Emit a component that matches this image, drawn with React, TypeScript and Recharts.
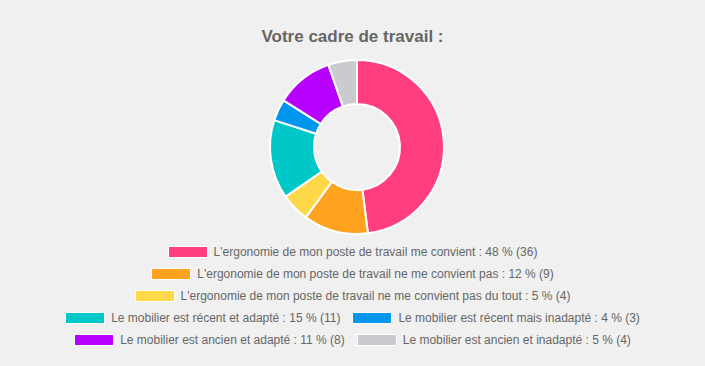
import React from "react";
import { PieChart, Pie, Cell, Legend } from "recharts";

const labels = [
  "L'ergonomie de mon poste de travail me convient",
  "L'ergonomie de mon poste de travail ne me convient pas",
  "L'ergonomie de mon poste de travail ne me convient pas du tout",
  "Le mobilier est récent et adapté",
  "Le mobilier est récent mais inadapté",
  "Le mobilier est ancien et adapté",
  "Le mobilier est ancien et inadapté",
];
const counts = [36, 9, 4, 11, 3, 8, 4];
const percents = [48, 12, 5, 15, 4, 11, 5];
const colors = ["#ff3d7f", "#ffa21f", "#ffd84a", "#00c8c8", "#0096ee", "#b800ff", "#c9cbcf"];
const legendRows = [[0], [1], [2], [3, 4], [5, 6]];
const title = "Votre cadre de travail :";

const data = labels.map((name, i) => ({ name, value: counts[i] }));

const FONT = "'Liberation Sans', Arial, Helvetica, sans-serif";

function LegendContent() {
  return (
    <div style={{ fontFamily: FONT, fontSize: 12, color: "#666" }}>
      {legendRows.map((row, r) => (
        <div
          key={r}
          style={{ display: "flex", justifyContent: "center", height: 22, alignItems: "center" }}
        >
          {row.map((i) => (
            <div key={i} style={{ display: "flex", alignItems: "center", margin: "0 6px" }}>
              <span
                style={{
                  display: "inline-block",
                  width: 40,
                  height: 12,
                  background: colors[i],
                  border: "1px solid #fff",
                  boxSizing: "border-box",
                  marginRight: 6,
                }}
              />
              <span>{`${labels[i]} : ${percents[i]} % (${counts[i]})`}</span>
            </div>
          ))}
        </div>
      ))}
    </div>
  );
}

export default function App() {
  return (
    <div
      style={{
        position: "absolute",
        left: 0,
        top: 0,
        width: 705,
        height: 366,
        background: "#f0f0f0",
      }}
    >
      <div
        style={{
          position: "absolute",
          top: 27,
          left: 0,
          width: 705,
          textAlign: "center",
          fontFamily: FONT,
          fontWeight: "bold",
          fontSize: 17,
          color: "#666",
        }}
      >
        {title}
      </div>
      <PieChart width={705} height={366} margin={{ top: 0, right: 0, bottom: 0, left: 0 }}>
        <Pie
          data={data}
          dataKey="value"
          nameKey="name"
          cx={357}
          cy={147}
          innerRadius={43}
          outerRadius={87}
          startAngle={90}
          endAngle={-270}
          stroke="#fff"
          strokeWidth={2}
          isAnimationActive={false}
        >
          {data.map((d, i) => (
            <Cell key={i} fill={colors[i]} />
          ))}
        </Pie>
        <Legend
          content={() => <LegendContent />}
          wrapperStyle={{ position: "absolute", top: 241, left: 0, width: 705 }}
        />
      </PieChart>
    </div>
  );
}
